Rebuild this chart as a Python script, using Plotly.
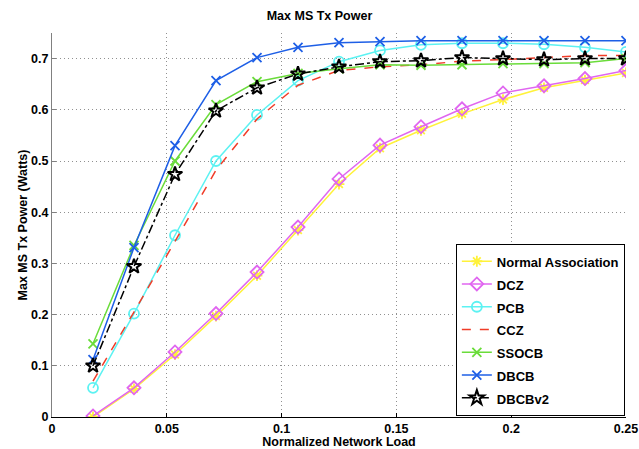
import plotly.graph_objects as go

load = [0.01786, 0.03571, 0.05357, 0.07143, 0.08929, 0.10714, 0.125,
        0.14286, 0.16071, 0.17857, 0.19643, 0.21429, 0.23214, 0.25]

normal = [0.0, 0.055, 0.122, 0.197, 0.276, 0.365, 0.455, 0.525, 0.560, 0.592, 0.620, 0.643, 0.658, 0.672]
dcz    = [0.002, 0.057, 0.127, 0.202, 0.283, 0.371, 0.465, 0.531, 0.567, 0.602, 0.633, 0.647, 0.661, 0.677]
pcb    = [0.057, 0.202, 0.355, 0.500, 0.590, 0.657, 0.694, 0.716, 0.727, 0.730, 0.730, 0.728, 0.722, 0.713]
ccz    = [0.070, 0.205, 0.343, 0.482, 0.582, 0.648, 0.677, 0.684, 0.688, 0.695, 0.698, 0.702, 0.706, 0.706]
ssocb  = [0.143, 0.335, 0.500, 0.610, 0.655, 0.671, 0.680, 0.688, 0.687, 0.688, 0.690, 0.690, 0.692, 0.700]
dbcb   = [0.112, 0.331, 0.530, 0.657, 0.702, 0.722, 0.731, 0.733, 0.735, 0.735, 0.735, 0.735, 0.735, 0.735]
dbcbv2 = [0.100, 0.294, 0.474, 0.598, 0.643, 0.670, 0.684, 0.694, 0.696, 0.702, 0.700, 0.698, 0.700, 0.700]

names = ["Normal Association", "DCZ", "PCB", "CCZ", "SSOCB", "DBCB", "DBCBv2"]
series = [normal, dcz, pcb, ccz, ssocb, dbcb, dbcbv2]
colors = ["#FFF23A", "#E066F0", "#5CF2F2", "#F03C28", "#6ADC3A", "#1E5FE6", "#000000"]
symbols = ["asterisk-open", "diamond-open", "circle-open", None, "x-thin-open", "x-thin-open", "star-open"]
dashes = ["solid", "solid", "solid", "dash", "solid", "solid", "dashdot"]
msizes = [9, 10, 10, 0, 9, 9, 11]

fig = go.Figure()
for name, ys, c, s, d, ms in zip(names, series, colors, symbols, dashes, msizes):
    label = "<span style='font-size:13px'>" + name + "</span>"
    if s is None:
        fig.add_trace(go.Scatter(x=load, y=ys, name=label, mode="lines",
                                 line=dict(color=c, width=1.5, dash=d)))
    else:
        fig.add_trace(go.Scatter(x=load, y=ys, name=label, mode="lines+markers",
                                 line=dict(color=c, width=1.5, dash=d),
                                 marker=dict(symbol=s, size=ms, color=c,
                                             line=dict(color=c, width=1.8 if s != "star-open" else 2))))

font_family = "Liberation Sans, Arial, sans-serif"
fig.update_layout(
    width=639, height=449,
    margin=dict(l=52, r=13, t=33, b=32),
    paper_bgcolor="white", plot_bgcolor="white",
    font=dict(family=font_family, size=13, color="black"),
    title=dict(text="<b>Max MS Tx Power</b>", x=0.5, xanchor="center", y=0.965, yanchor="middle",
               font=dict(size=12.5, family=font_family)),
    showlegend=True,
    legend=dict(x=0.998, y=0.003, xanchor="right", yanchor="bottom",
                bgcolor="white", bordercolor="black", borderwidth=1,
                font=dict(size=15.2, family=font_family, weight="bold"),
                tracegroupgap=0, itemwidth=30),
)
fig.update_xaxes(range=[0, 0.25], tickvals=[0, 0.05, 0.1, 0.15, 0.2, 0.25],
                 ticktext=["0", "0.05", "0.1", "0.15", "0.2", "0.25"],
                 automargin=False,
                 showgrid=True, gridcolor="#909090", griddash="1px,3px", gridwidth=1,
                 showline=True, linecolor="black", linewidth=1, zeroline=False,
                 ticks="inside", ticklen=4, tickcolor="black",
                 tickfont=dict(size=12.5, weight="bold"),
                 title=dict(text="<b>Normalized Network Load</b>", standoff=0, font=dict(size=12.5)))
fig.update_yaxes(range=[0, 0.75], tickvals=[0, 0.1, 0.2, 0.3, 0.4, 0.5, 0.6, 0.7],
                 ticktext=["0", "0.1", "0.2", "0.3", "0.4", "0.5", "0.6", "0.7"],
                 automargin=False,
                 showgrid=True, gridcolor="#909090", griddash="1px,3px", gridwidth=1,
                 showline=True, linecolor="#808080", linewidth=1, zeroline=False,
                 ticks="inside", ticklen=4, tickcolor="#808080",
                 tickfont=dict(size=12.5, weight="bold"),
                 title=dict(text="<b>Max MS Tx Power (Watts)</b>", standoff=0, font=dict(size=12.5)))

fig.write_html("out.html", config={"displayModeBar": False},
               post_script="document.body.style.margin='0';document.body.style.padding='0';")
